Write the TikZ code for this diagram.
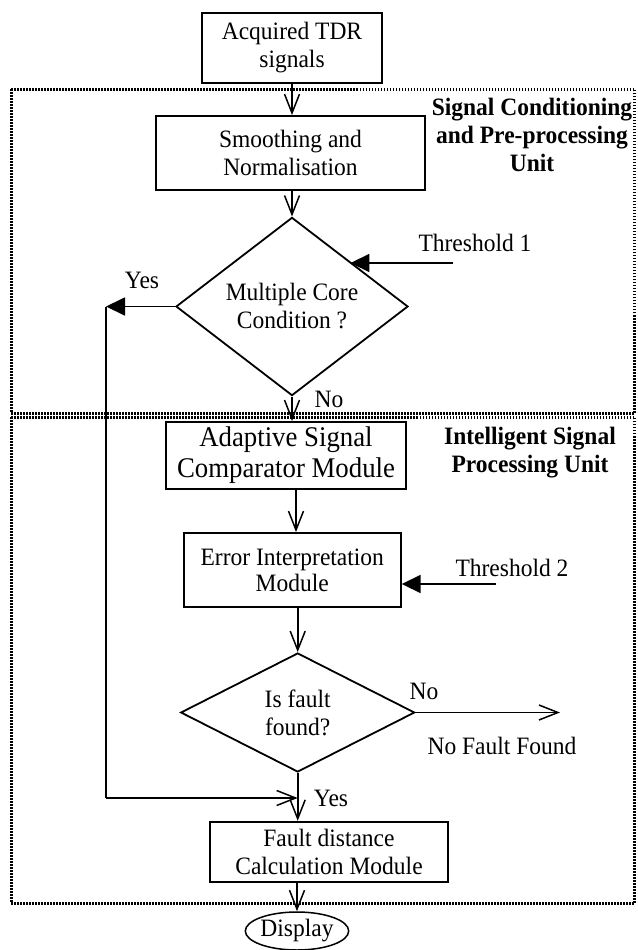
\documentclass[tikz,border=0pt]{standalone}
\usepackage{fontspec}
\setmainfont{Liberation Serif}[FakeStretch=0.94]
\usetikzlibrary{shapes.geometric,arrows.meta,calc}
\begin{document}
\begin{tikzpicture}[x=1pt,y=-1pt,
  every node/.style={font=\fontsize{25}{28}\selectfont},
  blk/.style={draw,line width=1.8pt,inner sep=0pt,align=center},
  dec/.style={draw,diamond,line width=1.8pt,inner sep=0pt,align=center},
  lbl/.style={inner sep=0pt,align=center},
  unitlbl/.style={inner sep=0pt,align=center,font=\bfseries\fontsize{25}{28}\selectfont},
  zone/.style={line width=3pt,dash pattern=on 1.5pt off 1.5pt},
  openarrow/.style={line width=1.8pt,-{Straight Barb[length=19pt,width=15pt,line width=1.5pt]}},
  fillarrow/.style={line width=1.8pt,-{Triangle[length=19pt,width=18pt]}},
  plain/.style={line width=1.8pt}
]
\useasboundingbox (0,0) rectangle (637,950);
\fill[white] (0,0) rectangle (637,950);

% zones
\draw[zone] (11,89) rectangle (634.5,413);
\draw[zone] (11,417) rectangle (634.5,903);

% nodes
\node[blk,minimum width=180pt,minimum height=70pt] (acq) at (292,48) {Acquired TDR\\signals};
\node[blk,minimum width=269pt,minimum height=74pt] (smooth) at (290.5,153) {Smoothing and\\Normalisation};
\node[dec,minimum width=232pt,minimum height=173pt] (dia1) at (292,306.5) {Multiple Core\\Condition ?};
\node[blk,minimum width=240pt,minimum height=67pt,font=\fontsize{28.5}{31}\selectfont] (adapt) at (286,455.5) {Adaptive Signal\\Comparator Module};
\node[blk,minimum width=217pt,minimum height=74pt,font=\fontsize{25}{26}\selectfont] (err) at (292.3,570) {Error Interpretation\\Module};
\node[dec,minimum width=234pt,minimum height=119pt] (dia2) at (297.7,712.5) {Is fault\\found?};
\node[blk,minimum width=238pt,minimum height=60.5pt] (fault) at (329,852) {Fault distance\\Calculation Module};
\node[draw,ellipse,line width=1.5pt,inner sep=0pt,minimum width=86pt,minimum height=38pt] (disp) at (297,931) {Display};

% labels
\node[unitlbl] (scpu) at (532,135) {Signal Conditioning\\and Pre-processing\\Unit};
\node[unitlbl] (ispu) at (530,453) {Intelligent Signal\\Processing Unit};
\node[lbl] (th1) at (475,243) {Threshold 1};
\node[lbl] (th2) at (512,568) {Threshold 2};
\node[lbl] (yes1) at (142,280) {Yes};
\node[lbl] (no1) at (329,399) {No};
\node[lbl] (no2) at (424,691) {No};
\node[lbl] (nff) at (502,746) {No Fault Found};
\node[lbl] (yes2) at (331,798) {Yes};

% free ends
\coordinate (t1s) at (453,263);
\coordinate (t2s) at (496,584);
\coordinate (yesL) at (106,306.5);
\coordinate (join) at (297.7,798);
\coordinate (nffend) at (560,712.5);
\coordinate (ae) at ($(adapt.south)+(10,0)$);

% connectors
\draw[openarrow] (acq.south) -- (acq.south |- smooth.north);
\draw[openarrow] (dia1.north |- smooth.south) -- (dia1.north);
\draw[fillarrow] (t1s) -- (t1s -| dia1.north east);
\draw[fillarrow] (dia1.west) -- (yesL);
\draw[plain] (yesL) -- (yesL |- join);
\draw[openarrow] (yesL |- join) -- (join);
\draw[openarrow] (dia1.south) -- (dia1.south |- adapt.north);
\draw[openarrow] (ae) -- (ae |- err.north);
\draw[fillarrow] (t2s) -- (t2s -| err.east);
\draw[openarrow] (dia2.north |- err.south) -- (dia2.north);
\draw[openarrow] (dia2.east) -- (nffend);
\draw[openarrow] (dia2.south) -- (dia2.south |- fault.north);
\draw[openarrow] (disp.north |- fault.south) -- (disp.north);
\end{tikzpicture}
\end{document}
